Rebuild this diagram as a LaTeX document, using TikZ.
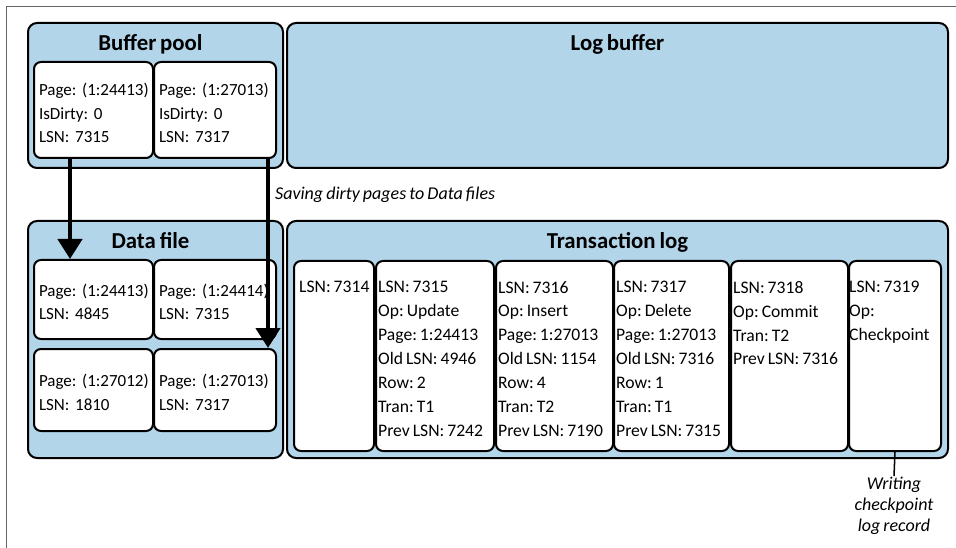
\documentclass[tikz,border=0pt]{standalone}
\usepackage{fontspec}
\setmainfont{Carlito}[WordSpace=0.75]
\frenchspacing
\usetikzlibrary{arrows.meta,positioning}
\definecolor{poolblue}{HTML}{B3D5EA}
\begin{document}
\begin{tikzpicture}[x=1pt,y=-1pt,
  panel/.style={draw,fill=poolblue,line width=2pt,rounded corners=9pt,anchor=north west,inner sep=0pt},
  heading/.style={anchor=base,inner sep=0pt,font=\fontsize{22.8}{26}\selectfont\bfseries},
  pagebox/.style={draw,fill=white,line width=2pt,rounded corners=7pt,anchor=north west,inner xsep=5pt,inner ysep=0pt,align=left,font=\fontsize{17}{23.5}\selectfont},
  logbox/.style={draw,fill=white,line width=2pt,rounded corners=7pt,anchor=north west,inner sep=0pt,minimum height=190pt},
  logtext/.style={anchor=north west,inner sep=0pt,align=left,font=\fontsize{17.6}{23.9}\selectfont},
  flow/.style={line width=4.5pt,-{Triangle[width=24pt,length=20pt]}},
  note/.style={inner sep=1pt,font=\fontsize{18}{21}\selectfont\itshape}]
\useasboundingbox (0,0) rectangle (956,548);
\draw[black!60,line width=1pt] (6,548) -- (6,6.5) -- (956,6.5);
% panels
\node[panel,minimum width=255pt,minimum height=145pt] (bp) at (27,22) {};
\node[panel,minimum width=661pt,minimum height=145pt] (lb) at (286,22) {};
\node[panel,minimum width=255pt,minimum height=237pt] (df) at (27,220) {};
\node[panel,minimum width=661pt,minimum height=237pt] (tl) at (286,220) {};
\node[heading] (bptitle) at ([xshift=-5pt,yshift=-28.5pt]bp.north) {Buffer pool};
\node[heading] (lbtitle) at ([yshift=-28.5pt]lb.north) {Log buffer};
\node[heading] (dftitle) at ([xshift=-5pt,yshift=-28.5pt]df.north) {Data file};
\node[heading] (tltitle) at ([yshift=-28.5pt]tl.north) {Transaction log};
% buffer pool pages
\node[pagebox,text width=109pt,minimum height=96pt] (bp1) at (33,61) {\rule{0pt}{19pt}Page:~(1:24413)\\IsDirty: 0\\LSN: 7315};
\node[pagebox,text width=112pt,minimum height=96pt] (bp2) at (153,61) {\rule{0pt}{19pt}Page:~(1:27013)\\IsDirty: 0\\LSN: 7317};
% data file pages
\node[pagebox,text width=109pt,minimum height=79pt] (df1) at (33,259) {\rule{0pt}{17pt}Page:~(1:24413)\\LSN: 4845};
\node[pagebox,text width=112pt,minimum height=79pt] (df2) at (153,259) {\rule{0pt}{17pt}Page:~(1:24414)\\LSN: 7315};
\node[pagebox,text width=109pt,minimum height=82pt] (df3) at (33,348) {\rule{0pt}{17pt}Page:~(1:27012)\\LSN: 1810};
\node[pagebox,text width=112pt,minimum height=82pt] (df4) at (153,348) {\rule{0pt}{17pt}Page:~(1:27013)\\LSN: 7317};
% log records
\node[logbox,minimum width=80pt] (lr1) at (293,260) {};
\node[logbox,minimum width=118pt] (lr2) at (375,260) {};
\node[logbox,minimum width=117pt] (lr3) at (495,260) {};
\node[logbox,minimum width=115pt] (lr4) at (613,260) {};
\node[logbox,minimum width=117pt] (lr5) at (730,260) {};
\node[logbox,minimum width=92pt] (lr6) at (848,260) {};
\node[logtext] (lr1t) at ([xshift=6pt,yshift=-21pt]lr1.north west) {LSN: 7314};
\node[logtext] (lr2t) at ([xshift=3pt,yshift=-21pt]lr2.north west) {LSN: 7315\\Op: Update\\Page: 1:24413\\Old LSN: 4946\\Row: 2\\Tran: T1\\Prev LSN: 7242};
\node[logtext] (lr3t) at ([xshift=3pt,yshift=-21pt]lr3.north west) {LSN: 7316\\Op: Insert\\Page: 1:27013\\Old LSN: 1154\\Row: 4\\Tran: T2\\Prev LSN: 7190};
\node[logtext] (lr4t) at ([xshift=3pt,yshift=-21pt]lr4.north west) {LSN: 7317\\Op: Delete\\Page: 1:27013\\Old LSN: 7316\\Row: 1\\Tran: T1\\Prev LSN: 7315};
\node[logtext] (lr5t) at ([xshift=3pt,yshift=-21pt]lr5.north west) {LSN: 7318\\Op: Commit\\Tran: T2\\Prev LSN: 7316};
\node[logtext] (lr6t) at ([xshift=1pt,yshift=-21pt]lr6.north west) {LSN: 7319\\Op:\\Checkpoint};
% flushing pages
\draw[flow] ([xshift=37pt]bp1.south west) -- ([xshift=37pt]df1.north west);
\draw[flow] ([xshift=115pt]bp2.south west) -- ([xshift=115pt]df4.north west);
\node[note,anchor=west] (save) at (274,195) {Saving dirty pages to Data files};
% checkpoint
\node[note,align=center] (ckpt) at (894,506) {Writing\\checkpoint\\log record};
\draw[line width=1.5pt] (lr6.south) -- (ckpt.north);
\end{tikzpicture}
\end{document}
